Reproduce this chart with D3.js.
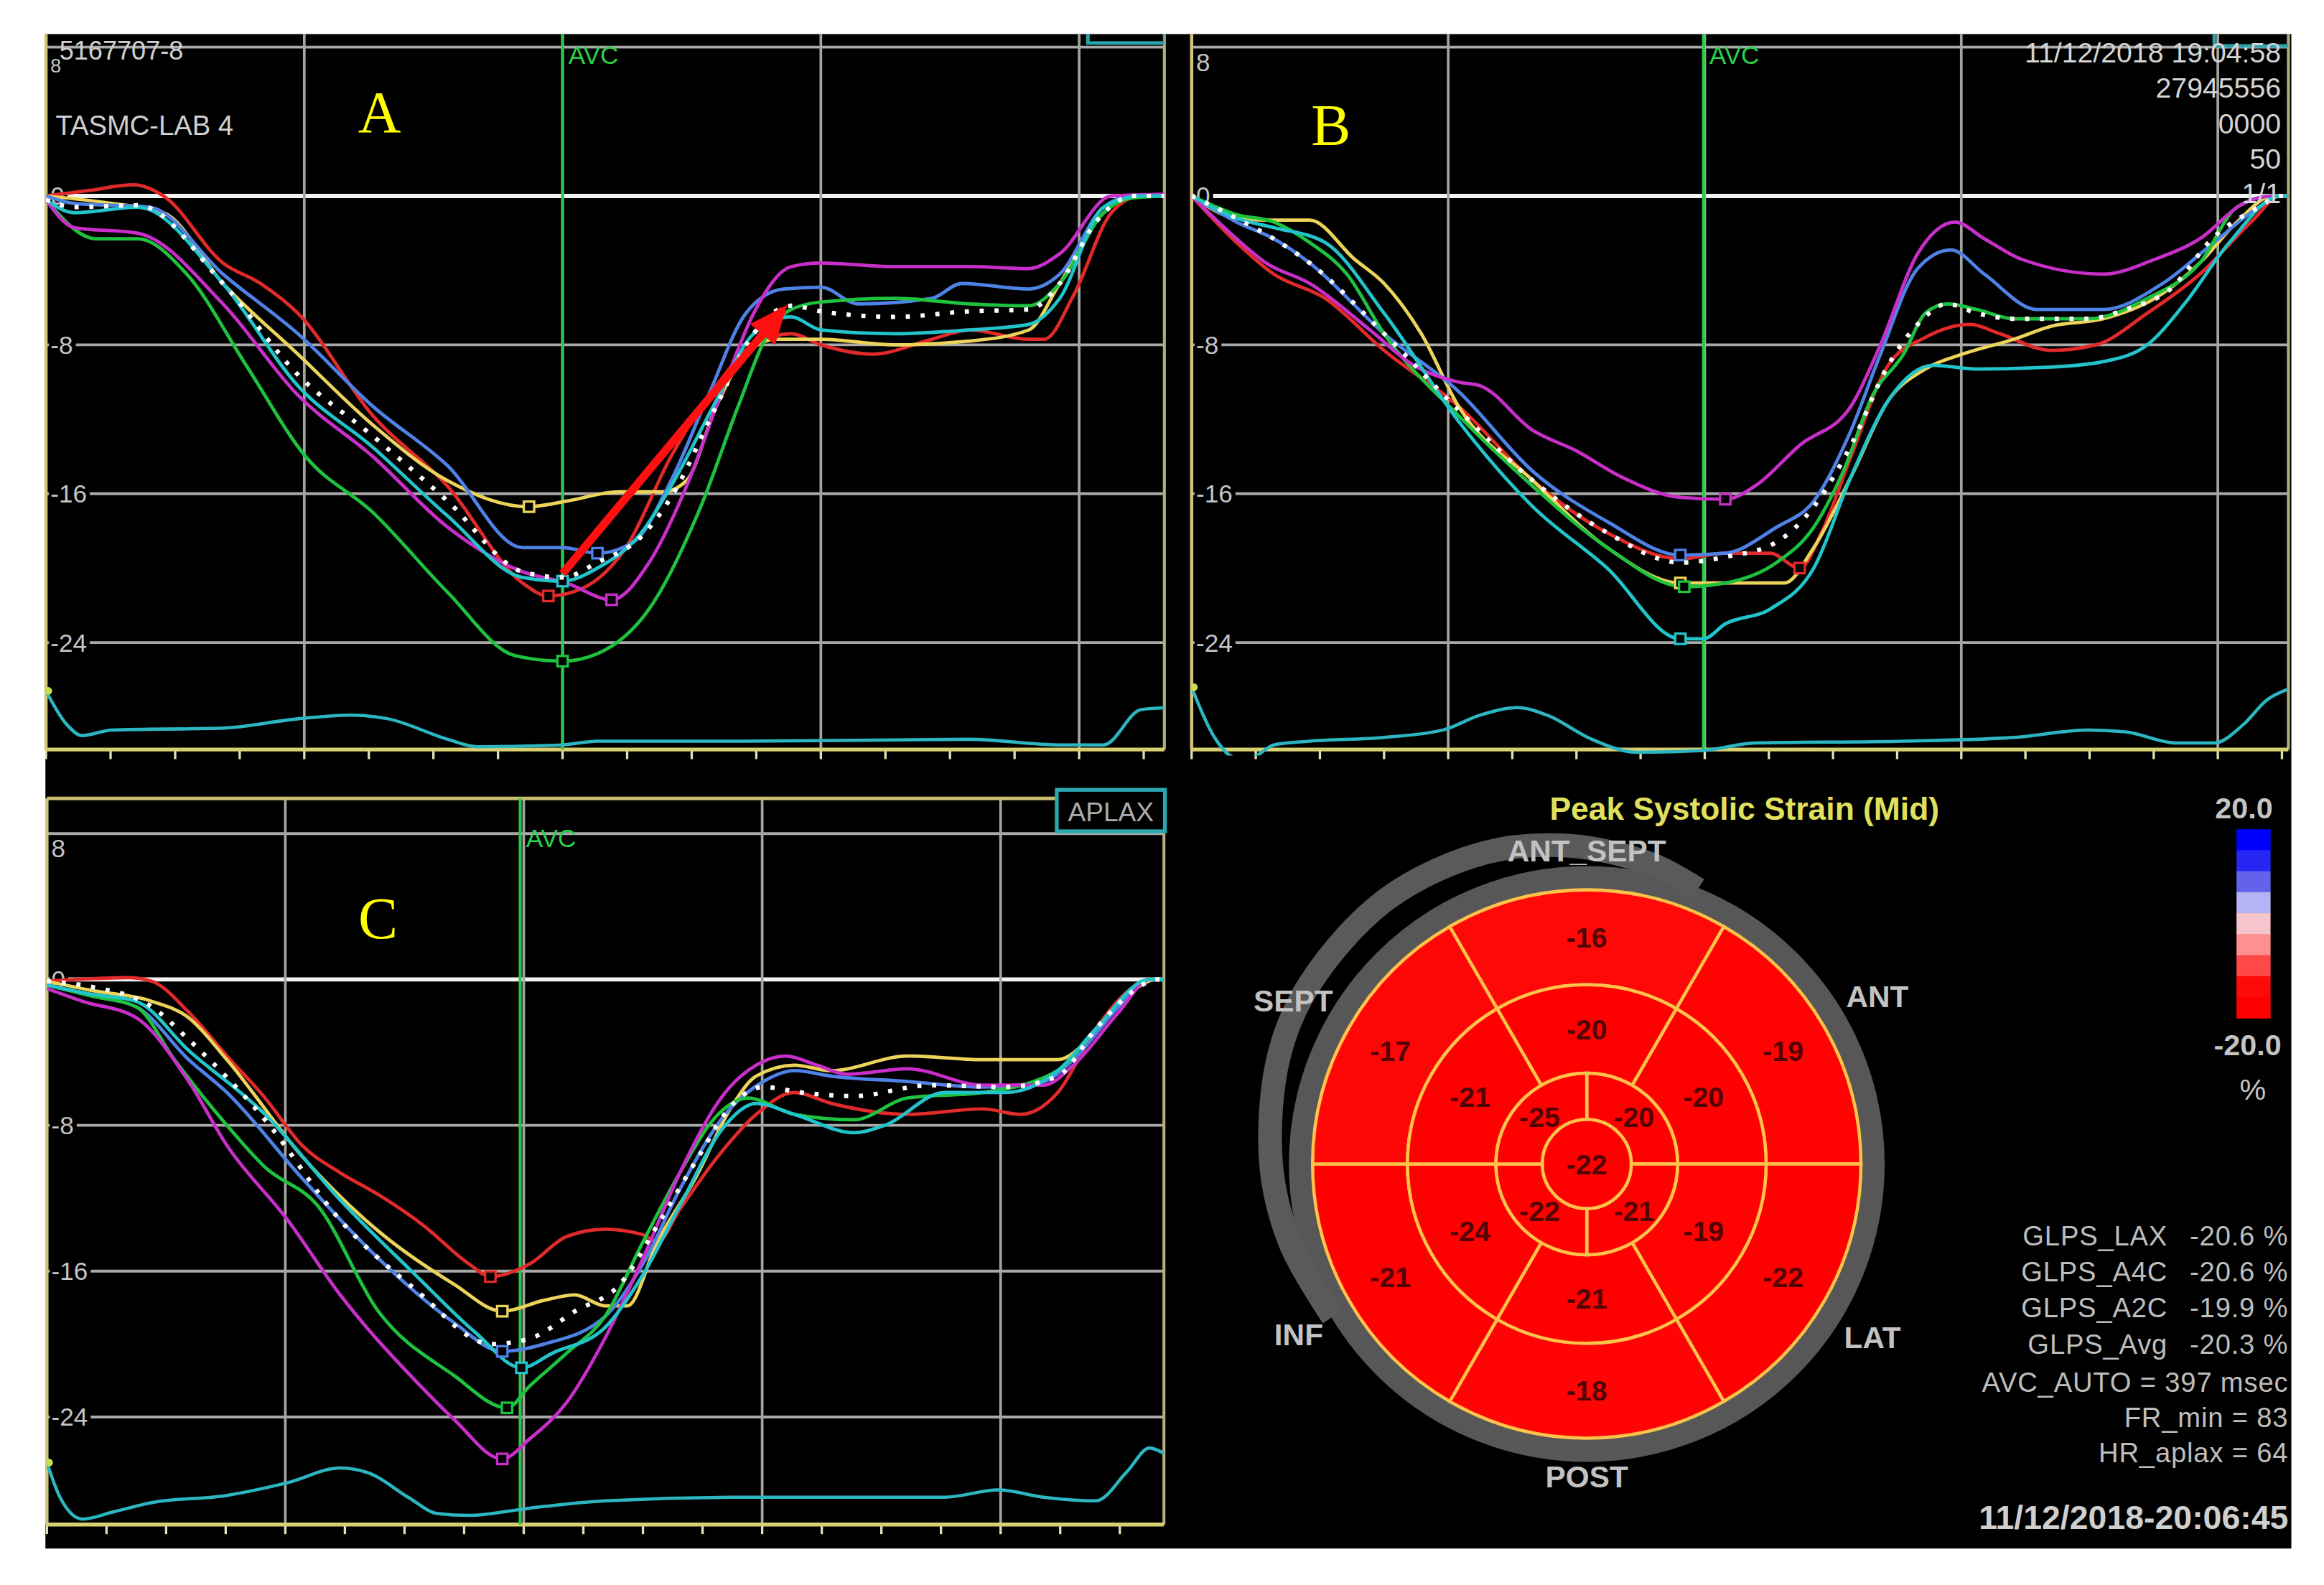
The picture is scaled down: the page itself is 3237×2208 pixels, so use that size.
<!DOCTYPE html>
<html>
<head>
<meta charset="utf-8">
<script src="https://cdn.jsdelivr.net/npm/d3@7.9.0/dist/d3.min.js"></script>
<style>
  body { margin: 0; background: #fff; }
  svg { display: block; }
  text { font-family: "Liberation Sans", Arial, sans-serif; }
</style>
</head>
<body>
<div id="chart"></div>
<script>
// Strain curves: [time in ms, strain in %]
const aRed = [[0,0],[34,0.3],[68,0.6],[91,0],[137,-3.6],[166,-4.7],[195,-6.3],[253,-11.8],[311,-15.6],[369,-20.8],[389,-21.5],[415,-21.1],[449,-18.9],[484,-14],[519,-10.2],[548,-8],[577,-7.4],[600,-8],[640,-8.5],[686,-7.7],[715,-7.2],[761,-7.7],[773,-7.7],[796,-5.3],[825,-0.9],[848,0],[870,0]];
const aYellow = [[0,0],[51,-0.4],[91,-0.9],[137,-4.7],[195,-8.5],[253,-12.3],[311,-15.3],[374,-16.7],[403,-16.4],[444,-15.9],[478,-15.9],[496,-15.3],[519,-11.3],[542,-8.5],[565,-7.7],[600,-7.7],[657,-8],[715,-7.8],[761,-7.2],[785,-4.7],[819,-0.9],[842,0],[870,0]];
const aBlue = [[0,0],[22,-0.4],[80,-0.6],[137,-4.2],[195,-7.4],[253,-11.3],[311,-14.5],[369,-18.9],[400,-18.9],[427,-19.2],[455,-18.6],[484,-15.3],[513,-10.7],[542,-6.3],[571,-5],[600,-4.9],[629,-5.8],[686,-5.5],[709,-4.7],[761,-5],[785,-4.2],[819,-0.6],[842,0],[870,0]];
const aGreen = [[0,-0.2],[39,-2.3],[71,-2.3],[109,-4.2],[155,-9.1],[201,-14],[253,-17],[311,-21.3],[363,-24.7],[400,-25],[427,-24.6],[467,-22.2],[507,-16.7],[536,-11.3],[559,-7.4],[577,-6.1],[600,-5.7],[657,-5.5],[715,-5.8],[761,-5.9],[785,-4.7],[819,-0.9],[842,-0.1],[870,0]];
const aMagenta = [[0,-0.2],[22,-1.7],[71,-2],[137,-5.8],[195,-10.7],[253,-14],[311,-17.8],[369,-20.2],[403,-20.8],[438,-21.7],[467,-19.7],[496,-15.6],[525,-10.2],[548,-6.3],[577,-3.8],[600,-3.6],[657,-3.8],[715,-3.8],[761,-3.9],[785,-3.1],[825,0],[870,0.1]];
const aCyan = [[0,-0.2],[22,-0.9],[71,-0.6],[137,-4.7],[195,-10.2],[253,-13.5],[311,-17.2],[369,-20.5],[400,-20.7],[427,-20],[461,-18.1],[484,-15.6],[519,-11],[548,-7.4],[577,-6.5],[600,-7.2],[657,-7.4],[715,-7.2],[761,-6.9],[785,-5.5],[819,-0.6],[848,0],[870,0]];
const aAvg = [[0,-0.2],[22,-0.6],[71,-0.5],[137,-4.7],[195,-9.6],[253,-12.9],[311,-16.4],[369,-20.2],[400,-20.5],[427,-19.7],[461,-18.3],[484,-16.2],[519,-11.3],[548,-7.4],[577,-5.9],[600,-6.2],[657,-6.5],[715,-6.2],[761,-6.1],[785,-4.7],[813,-1.4],[842,0],[870,0]];
const aTrace = [[0,-26.6],[16,-28.4],[28,-29],[51,-28.7],[137,-28.6],[195,-28.1],[236,-27.9],[265,-28.1],[311,-29.2],[334,-29.6],[400,-29.5],[427,-29.3],[542,-29.3],[715,-29.2],[785,-29.5],[819,-29.5],[848,-27.6],[870,-27.5]];
const aArrow = [[400,-20.3],[571,-6.1]];

const bRed = [[0,0],[35,-2.5],[64,-4.2],[104,-5.5],[150,-8.3],[208,-11.3],[266,-15.3],[324,-18.1],[381,-19.5],[416,-19.2],[451,-19.2],[474,-20],[491,-18.1],[514,-14],[543,-9.1],[572,-7.6],[607,-6.9],[630,-7.4],[670,-8.3],[705,-8],[745,-6.3],[786,-4.2],[826,-1.4],[849,0],[855,0]];
const bYellow = [[0,0],[35,-1.2],[58,-1.3],[92,-1.3],[127,-3.4],[150,-4.7],[179,-7.4],[208,-11.3],[266,-15.3],[324,-18.9],[381,-20.8],[416,-20.8],[462,-20.8],[485,-18.9],[514,-15.1],[543,-11],[572,-9.3],[601,-8.5],[641,-7.7],[670,-7],[711,-6.6],[751,-5.5],[786,-3.6],[815,-1.4],[843,0],[855,0]];
const bBlue = [[0,0],[35,-1.4],[64,-2.3],[92,-3.6],[150,-7.4],[208,-10.5],[266,-14.8],[324,-17.5],[381,-19.3],[416,-19.2],[456,-17.8],[485,-16.4],[514,-12.6],[537,-8.5],[566,-3.9],[592,-2.9],[618,-4.2],[659,-6.1],[711,-6.1],[757,-4.7],[797,-2.5],[832,-0.6],[849,0],[855,0]];
const bGreen = [[0,0],[35,-1],[64,-1.4],[92,-2.5],[121,-4.2],[150,-7.4],[208,-11.8],[266,-15.6],[324,-18.9],[384,-21],[416,-20.8],[456,-19.7],[485,-17.8],[508,-14.8],[531,-10.7],[555,-8.5],[572,-6.3],[589,-5.8],[612,-6.1],[641,-6.6],[699,-6.6],[745,-5.5],[786,-3.6],[815,-0.6],[843,0],[855,0]];
const bMagenta = [[0,0],[35,-2.3],[58,-3.6],[92,-4.7],[139,-7.2],[173,-9.1],[208,-10],[225,-10.2],[266,-12.6],[300,-13.7],[335,-15.1],[381,-16.2],[416,-16.3],[439,-15.6],[474,-13.4],[514,-11.3],[537,-8],[566,-3.1],[595,-1.4],[618,-2.3],[647,-3.4],[711,-4.2],[751,-3.4],[786,-2.3],[820,-0.4],[843,0],[855,0]];
const bCyan = [[0,0],[35,-1.2],[64,-1.7],[104,-2.5],[150,-6.3],[208,-12.1],[266,-16.7],[324,-20],[381,-23.8],[399,-23.8],[416,-23],[451,-22.2],[485,-20],[514,-15.1],[543,-11],[578,-9.1],[612,-9.3],[670,-9.2],[711,-8.9],[745,-8],[774,-5.8],[809,-2.5],[849,0],[855,0]];
const bAvg = [[0,0],[35,-1.2],[64,-2.3],[92,-3.6],[150,-7.4],[208,-11.5],[266,-15.3],[324,-18.1],[381,-19.7],[416,-19.4],[456,-18.6],[485,-16.7],[514,-13.4],[543,-9.1],[566,-6.9],[589,-5.8],[612,-6.3],[641,-6.6],[699,-6.6],[728,-6.1],[763,-5],[797,-2.2],[832,-0.6],[849,0],[855,0]];
const bTrace = [[0,-26.4],[17,-29],[35,-30.2],[46,-30.2],[64,-29.5],[92,-29.3],[150,-29.1],[196,-28.7],[225,-27.9],[254,-27.5],[277,-27.9],[312,-29.2],[347,-29.9],[399,-29.8],[439,-29.4],[555,-29.3],[641,-29.1],[699,-28.7],[728,-28.8],[768,-29.4],[797,-29.4],[820,-28.4],[838,-27.1],[855,-26.5]];

const cRed = [[0,-0.1],[24,0],[68,0.1],[88,-0.1],[119,-1.8],[151,-4.2],[183,-6.5],[214,-9.1],[246,-10.6],[278,-11.8],[316,-13.5],[354,-15.6],[372,-16.3],[405,-15.6],[436,-14.1],[468,-13.7],[500,-14],[512,-14.4],[531,-12.6],[563,-9.7],[595,-7.4],[627,-6.2],[658,-6.8],[722,-7.4],[785,-7.1],[817,-7.4],[848,-6.2],[880,-2.7],[912,-0.4],[931,0],[937,0]];
const cYellow = [[0,-0.1],[37,-0.6],[88,-1.2],[119,-2.1],[151,-4.4],[214,-9.7],[278,-13.8],[341,-16.7],[382,-18.2],[417,-17.6],[443,-17.3],[468,-17.9],[487,-17.9],[512,-14.4],[544,-10.9],[576,-6.8],[595,-5.3],[627,-4.7],[658,-5],[722,-4.2],[785,-4.4],[848,-4.4],[874,-3.3],[906,-0.9],[931,0],[937,0]];
const cBlue = [[0,-0.3],[37,-0.9],[75,-1.5],[119,-4.4],[151,-6.2],[214,-10.9],[278,-15.3],[341,-18.8],[382,-20.4],[417,-20],[468,-18.5],[500,-15.6],[531,-11.5],[569,-7.4],[601,-5.6],[627,-5],[658,-5.3],[722,-5.6],[785,-5.9],[836,-5.6],[861,-4.4],[899,-1.5],[925,0],[937,0]];
const cGreen = [[0,-0.3],[37,-0.9],[75,-1.5],[107,-4.4],[151,-8],[183,-10.3],[227,-12.4],[278,-18.2],[341,-21.7],[386,-23.5],[405,-22.3],[436,-20.5],[468,-18.5],[500,-14.4],[531,-10.6],[563,-7.4],[588,-6.5],[627,-7.4],[677,-7.7],[722,-6.5],[785,-6.2],[848,-5],[880,-2.7],[925,0],[937,0]];
const cMagenta = [[0,-0.5],[30,-1.2],[75,-2.1],[119,-5.6],[151,-9.1],[202,-13.2],[246,-17.3],[309,-22],[341,-24.1],[382,-26.3],[405,-25.2],[436,-23.2],[468,-19.7],[500,-15.3],[531,-10.6],[569,-6.2],[595,-4.7],[620,-4.2],[646,-4.7],[671,-5.2],[722,-4.9],[785,-5.8],[836,-5.8],[861,-4.7],[899,-1.8],[925,0],[937,0]];
const cCyan = [[0,-0.3],[37,-0.8],[75,-1.2],[119,-3.9],[183,-7.4],[246,-12.1],[309,-16.2],[360,-19.4],[398,-21.3],[424,-20.5],[468,-19.1],[500,-16.2],[531,-12.4],[569,-8],[595,-6.8],[627,-7.4],[677,-8.4],[703,-8],[753,-6.2],[804,-6.2],[848,-5],[880,-2.7],[925,0],[937,0]];
const cAvg = [[0,-0.1],[37,-0.4],[88,-1.5],[119,-3.3],[183,-7.7],[246,-13.2],[309,-17],[373,-20],[405,-19.7],[443,-18.2],[481,-16.7],[512,-13.5],[544,-10],[576,-6.8],[601,-5.9],[633,-6.2],[677,-6.4],[741,-5.8],[804,-5.9],[848,-5.3],[880,-2.7],[912,-0.6],[931,0],[937,0]];
const cTrace = [[0,-26.5],[11,-28.4],[30,-29.6],[56,-29.2],[88,-28.7],[151,-28.3],[202,-27.6],[246,-26.8],[271,-27.1],[303,-28.4],[328,-29.3],[354,-29.4],[405,-29],[468,-28.6],[595,-28.4],[753,-28.4],[798,-28],[836,-28.4],[880,-28.6],[906,-27],[925,-25.7],[937,-26]];

const gridMs = [200, 400, 600, 800];
const gridStrain = [8, 0, -8, -16, -24];
const strainLabels = ["8", "0", "-8", "-16", "-24"];
const avcMs = { A: 400, B: 399, C: 397 };

// Bull's-eye, segments clockwise from the top (ANT_SEPT)
const wallNames = ["ANT_SEPT", "ANT", "LAT", "POST", "INF", "SEPT"];
const basalStrain = [-16, -19, -22, -18, -21, -17];
const midStrain = [-20, -20, -19, -21, -24, -21];
const apicalStrain = [-20, -21, -22, -25];
const apexStrain = -22;
const scaleSteps = [20, 15, 10, 5, 0, -5, -10, -15, -20];
const scaleColors = ["#0000ff", "#2626f2", "#6262ea", "#b4b4f4", "#f6c4cc", "#ff9090", "#ff4848", "#ff0a0a", "#ff0000"];

const glpsLabels = ["GLPS_LAX", "GLPS_A4C", "GLPS_A2C", "GLPS_Avg"];
const glpsValues = ["-20.6 %", "-20.6 %", "-19.9 %", "-20.3 %"];
const infoLines = ["AVC_AUTO = 397 msec", "FR_min = 83", "HR_aplax = 64"];
const headerB = ["11/12/2018 19:04:58", "27945556", "0000", "50", "1/1"];

const lineColors = { red: "#e22a2a", yellow: "#ecd35a", blue: "#4f82e6", green: "#1ec23e", magenta: "#c82ec8", cyan: "#22c4cc" };

const W = 1568, H = 1069.6;
const svg = d3.select("#chart").append("svg")
  .attr("width", 3237).attr("height", 2208)
  .attr("viewBox", `0 0 ${W} ${H}`);
const defs = svg.append("defs");

svg.append("rect").attr("width", W).attr("height", H).attr("fill", "#fff");
svg.append("rect").attr("x", 30.6).attr("y", 23).attr("width", 1515.4).attr("height", 1022).attr("fill", "#000");

defs.append("marker").attr("id", "arrowHead")
  .attr("markerUnits", "userSpaceOnUse")
  .attr("markerWidth", 30).attr("markerHeight", 30)
  .attr("refX", 22).attr("refY", 11).attr("orient", "auto")
  .append("path").attr("d", "M0,0 L26,11 L0,22 Z").attr("fill", "#ff1010");

const panels = [
  { key: "A", x0: 31, x1: 785.6, yTop: 23, yBottom: 505.8, tMax: 866, vTop: 8.7, vBottom: -29.75,
    series: { red: aRed, yellow: aYellow, blue: aBlue, green: aGreen, magenta: aMagenta, cyan: aCyan },
    avg: aAvg, trace: aTrace, letter: "A", letterX: 256, letterY: 89, topBorder: false },
  { key: "B", x0: 804, x1: 1544, yTop: 23, yBottom: 505.8, tMax: 855, vTop: 8.7, vBottom: -29.75,
    series: { red: bRed, yellow: bYellow, blue: bBlue, green: bGreen, magenta: bMagenta, cyan: bCyan },
    avg: bAvg, trace: bTrace, letter: "B", letterX: 898, letterY: 98, topBorder: false },
  { key: "C", x0: 31.6, x1: 785.3, yTop: 538.8, yBottom: 1028.8, tMax: 937, vTop: 9.93, vBottom: -29.9,
    series: { red: cRed, yellow: cYellow, blue: cBlue, green: cGreen, magenta: cMagenta, cyan: cCyan },
    avg: cAvg, trace: cTrace, letter: "C", letterX: 255, letterY: 633, topBorder: true }
];

function drawPanel(p) {
  const x = d3.scaleLinear().domain([0, p.tMax]).range([p.x0, p.x1]);
  const y = d3.scaleLinear().domain([p.vBottom, p.vTop]).range([p.yBottom, p.yTop]);
  const g = svg.append("g");
  const clipId = "clip" + p.key;
  defs.append("clipPath").attr("id", clipId).append("rect")
    .attr("x", p.x0).attr("y", p.yTop).attr("width", p.x1 - p.x0).attr("height", p.yBottom - p.yTop + 4);

  // horizontal grid
  g.selectAll(".hgrid").data(gridStrain).join("line")
    .attr("x1", p.x0).attr("x2", p.x1)
    .attr("y1", (d) => y(d)).attr("y2", (d) => y(d))
    .attr("stroke", (d) => (d === 0 ? "#f2f2f2" : "#a9a9a9"))
    .attr("stroke-width", (d) => (d === 0 ? 2.8 : 1.9));

  // vertical grid
  g.selectAll(".vgrid").data(gridMs).join("line")
    .attr("x1", (d) => x(d)).attr("x2", (d) => x(d))
    .attr("y1", p.yTop).attr("y2", p.yBottom)
    .attr("stroke", "#a4a4a0").attr("stroke-width", 1.8);

  // borders / axes
  if (p.topBorder) {
    g.append("line").attr("x1", p.x0).attr("x2", p.x1).attr("y1", p.yTop).attr("y2", p.yTop)
      .attr("stroke", "#c8c070").attr("stroke-width", 2.4);
  }
  g.append("line").attr("x1", p.x1).attr("x2", p.x1).attr("y1", p.yTop).attr("y2", p.yBottom)
    .attr("stroke", "#b4ae78").attr("stroke-width", 2);
  g.append("line").attr("x1", p.x0).attr("x2", p.x0).attr("y1", p.yTop).attr("y2", p.yBottom)
    .attr("stroke", "#cfc67a").attr("stroke-width", 2.2);

  // tick marks every 50 ms under the time axis
  g.selectAll(".tick").data(d3.range(0, p.tMax + 1, 50)).join("line")
    .attr("x1", (d) => x(d)).attr("x2", (d) => x(d))
    .attr("y1", p.yBottom).attr("y2", p.yBottom + 6.5)
    .attr("stroke", "#e4e0b4").attr("stroke-width", 1.6);
  g.append("line").attr("x1", p.x0).attr("x2", p.x1).attr("y1", p.yBottom).attr("y2", p.yBottom)
    .attr("stroke", "#d8d070").attr("stroke-width", 2.6);

  // AVC marker line
  const avcX = x(avcMs[p.key]);
  g.append("line").attr("x1", avcX).attr("x2", avcX).attr("y1", p.yTop).attr("y2", p.yBottom)
    .attr("stroke", "#26cc46").attr("stroke-width", 2);
  g.append("text").attr("x", avcX + 4).attr("y", p.topBorder ? p.yTop + 33 : p.yTop + 20)
    .attr("fill", "#2ad04a").attr("font-size", 17).text("AVC");

  // strain tick labels on a black patch (top "8" of panel A sits under the patient id)
  strainLabels.forEach((lab, i) => {
    const ty = gridStrain[i] === 8 ? y(8) + (p.key === "A" ? 13 : 10) : y(gridStrain[i]);
    const t = g.append("text").attr("x", p.x0 + 3).attr("y", ty)
      .attr("dominant-baseline", "central")
      .attr("fill", "#c4c4c4").attr("font-size", gridStrain[i] === 8 && p.key === "A" ? 13 : 17).text(lab);
    const bb = t.node().getBBox();
    g.insert("rect", () => t.node())
      .attr("x", bb.x - 1).attr("y", bb.y + 2).attr("width", bb.width + 3).attr("height", bb.height - 4)
      .attr("fill", "#000");
  });

  const plot = g.append("g").attr("clip-path", `url(#${clipId})`);
  const line = d3.line().x((d) => x(d[0])).y((d) => y(d[1])).curve(d3.curveMonotoneX);

  // bottom trace
  plot.append("path").datum(p.trace).attr("d", line)
    .attr("fill", "none").attr("stroke", "#2cb6c2").attr("stroke-width", 2.2);
  plot.append("circle").attr("cx", x(p.trace[0][0]) + 1.5).attr("cy", y(p.trace[0][1]))
    .attr("r", 2.6).attr("fill", "#c8e050");

  // segment curves
  Object.entries(p.series).forEach(([name, data]) => {
    plot.append("path").datum(data).attr("d", line)
      .attr("fill", "none").attr("stroke", lineColors[name]).attr("stroke-width", 2.3);
  });
  Object.entries(p.series).forEach(([name, data]) => {
    const peak = d3.least(data, (d) => d[1]);
    plot.append("rect")
      .attr("x", x(peak[0]) - 3.5).attr("y", y(peak[1]) - 3.5)
      .attr("width", 7).attr("height", 7)
      .attr("fill", "#000").attr("stroke", lineColors[name]).attr("stroke-width", 1.6);
  });

  // average (white dotted)
  plot.append("path").datum(p.avg).attr("d", line)
    .attr("fill", "none").attr("stroke", "#ffffff").attr("stroke-width", 3)
    .attr("stroke-dasharray", "2.8,7.2");

  // panel letter
  svg.append("text").attr("x", p.letterX).attr("y", p.letterY)
    .attr("text-anchor", "middle").attr("fill", "#ffff00")
    .style("font-family", "'Liberation Serif', 'Times New Roman', serif")
    .attr("font-size", 40).text(p.letter);

  return { x, y, g, plot };
}

const drawn = panels.map(drawPanel);

// Panel A extras
const pa = drawn[0];
pa.plot.append("rect").attr("x", 734).attr("y", 12).attr("width", 52).attr("height", 17)
  .attr("fill", "none").attr("stroke", "#2aa4ac").attr("stroke-width", 2.4);
svg.append("text").attr("x", 40).attr("y", 40).attr("fill", "#d0d0d0").attr("font-size", 17.5).text("5167707-8");
svg.append("text").attr("x", 37.5).attr("y", 91).attr("fill", "#d0d0d0").attr("font-size", 18.5).text("TASMC-LAB 4");
pa.plot.append("line")
  .attr("x1", pa.x(aArrow[0][0])).attr("y1", pa.y(aArrow[0][1]))
  .attr("x2", pa.x(aArrow[1][0])).attr("y2", pa.y(aArrow[1][1]))
  .attr("stroke", "#ff1010").attr("stroke-width", 5.5)
  .attr("marker-end", "url(#arrowHead)");

// Panel B extras
const pb = drawn[1];
pb.plot.append("rect").attr("x", 1494).attr("y", 13).attr("width", 52).attr("height", 18)
  .attr("fill", "none").attr("stroke", "#2aa4ac").attr("stroke-width", 2.4);
svg.selectAll(".hdrB").data(headerB).join("text")
  .attr("x", 1539).attr("y", (d, i) => [42, 66, 90, 114, 137][i])
  .attr("text-anchor", "end").attr("fill", "#d4d4d4").attr("font-size", 19).text((d) => d);

// Panel C extras
svg.append("rect").attr("x", 713).attr("y", 533).attr("width", 73).attr("height", 28)
  .attr("fill", "#000").attr("stroke", "#2aa8b0").attr("stroke-width", 2.6);
svg.append("text").attr("x", 749.5).attr("y", 554).attr("text-anchor", "middle")
  .attr("fill", "#ababab").attr("font-size", 18).text("APLAX");

// Bull's-eye plot
const cx = 1070.6, cy = 785.5;
const rApex = 30, rApical = 61.3, rMid = 121, rBasal = 185;
const strainColor = d3.scaleLinear().domain(scaleSteps).range(scaleColors).clamp(true);
const eye = svg.append("g").attr("transform", `translate(${cx},${cy})`);
const deg = Math.PI / 180;

// grey rim and the offset outer arc
eye.append("circle").attr("r", 193).attr("fill", "none").attr("stroke", "#575757").attr("stroke-width", 16);
const rimArc = [[22, 200], [12, 207], [-3, 215], [-18, 221], [-37, 224], [-57, 223], [-71, 220], [-90, 213], [-105, 207], [-121, 200]];
eye.append("path")
  .attr("d", d3.lineRadial().angle((d) => d[0] * deg).radius((d) => d[1]).curve(d3.curveCatmullRom)(rimArc))
  .attr("fill", "none").attr("stroke", "#5a5a5a").attr("stroke-width", 16);

const arc = d3.arc();
function ring(values, inner, outer, span, offset, labelR) {
  values.forEach((v, i) => {
    const mid = offset + i * span;
    eye.append("path")
      .attr("d", arc({ innerRadius: inner, outerRadius: outer, startAngle: (mid - span / 2) * deg, endAngle: (mid + span / 2) * deg }))
      .attr("fill", strainColor(v)).attr("stroke", "#ffc24a").attr("stroke-width", 2.2);
    eye.append("text")
      .attr("x", labelR * Math.sin(mid * deg)).attr("y", -labelR * Math.cos(mid * deg))
      .attr("text-anchor", "middle").attr("dominant-baseline", "central")
      .attr("font-size", 19).attr("font-weight", "bold").attr("fill", "#520404")
      .text(v);
  });
}
ring(basalStrain, rMid, rBasal, 60, 0, 153);
ring(midStrain, rApical, rMid, 60, 0, 91);
ring(apicalStrain, rApex, rApical, 90, 45, 45);
eye.append("circle").attr("r", rApex).attr("fill", strainColor(apexStrain))
  .attr("stroke", "#ffc24a").attr("stroke-width", 2.2);
eye.append("text").attr("text-anchor", "middle").attr("dominant-baseline", "central")
  .attr("font-size", 19).attr("font-weight", "bold").attr("fill", "#520404").text(apexStrain);

// wall names around the rim
const wallAngles = [0, 57.7, 123.8, 180, 236.9, 301.4];
eye.selectAll(".wall").data(wallNames).join("text")
  .attr("x", (d, i) => 232 * Math.sin(wallAngles[i] * deg))
  .attr("y", (d, i) => -211 * Math.cos(wallAngles[i] * deg))
  .attr("text-anchor", "middle").attr("dominant-baseline", "central")
  .attr("font-size", 20.5).attr("font-weight", "bold").attr("fill", "#c2c2c2")
  .text((d) => d);

svg.append("text").attr("x", 1177).attr("y", 553).attr("text-anchor", "middle")
  .attr("font-size", 21.5).attr("font-weight", "bold").attr("fill", "#e0e05c")
  .text("Peak Systolic Strain (Mid)");

// colour scale bar
const barY = d3.scaleBand().domain(scaleSteps).range([559.6, 687]);
svg.selectAll(".bar").data(scaleSteps).join("rect")
  .attr("x", 1509).attr("width", 23)
  .attr("y", (d) => barY(d)).attr("height", barY.bandwidth() + 0.3)
  .attr("fill", (d) => strainColor(d));
svg.append("text").attr("x", 1514).attr("y", 552).attr("text-anchor", "middle")
  .attr("font-size", 20).attr("font-weight", "bold").attr("fill", "#c4c4c4").text("20.0");
svg.append("text").attr("x", 1516.5).attr("y", 712).attr("text-anchor", "middle")
  .attr("font-size", 20).attr("font-weight", "bold").attr("fill", "#c4c4c4").text("-20.0");
svg.append("text").attr("x", 1520).attr("y", 742).attr("text-anchor", "middle")
  .attr("font-size", 20).attr("fill", "#c4c4c4").text("%");

// global strain summary
const lineY = [840.6, 864.8, 889, 913.5, 939.5, 963, 986.6];
svg.selectAll(".glpsL").data(glpsLabels).join("text")
  .attr("x", 1462.5).attr("y", (d, i) => lineY[i])
  .attr("text-anchor", "end").attr("font-size", 18.5).attr("letter-spacing", 0.4)
  .attr("fill", "#bdbdbd").text((d) => d);
svg.selectAll(".glpsV").data(glpsValues).join("text")
  .attr("x", 1544).attr("y", (d, i) => lineY[i])
  .attr("text-anchor", "end").attr("font-size", 18.5).attr("letter-spacing", 0.4)
  .attr("fill", "#bdbdbd").text((d) => d);
svg.selectAll(".info").data(infoLines).join("text")
  .attr("x", 1544).attr("y", (d, i) => lineY[i + 4])
  .attr("text-anchor", "end").attr("font-size", 18.5).attr("letter-spacing", 0.4)
  .attr("fill", "#bdbdbd").text((d) => d);
svg.append("text").attr("x", 1544).attr("y", 1032).attr("text-anchor", "end")
  .attr("font-size", 22.5).attr("font-weight", "bold").attr("fill", "#cfcfcf")
  .text("11/12/2018-20:06:45");
</script>
</body>
</html>
